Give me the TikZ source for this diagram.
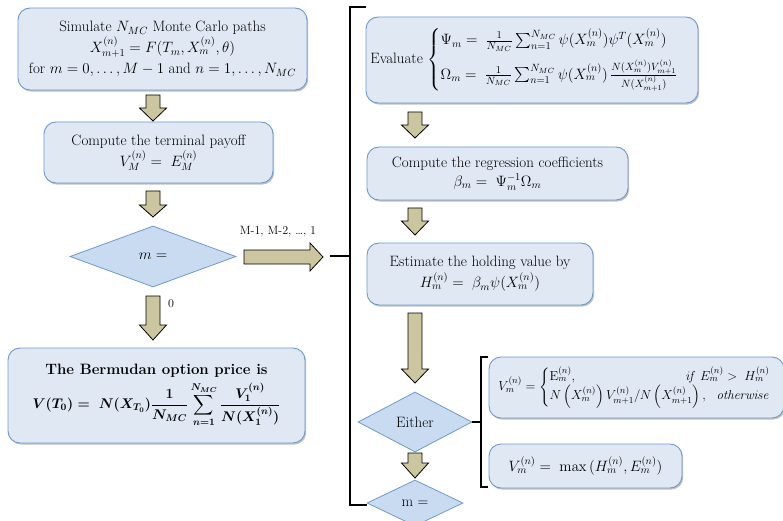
\documentclass[tikz,border=0pt]{standalone}
\usepackage{amsmath,amssymb}
\usepackage{fix-cm}
\usetikzlibrary{shapes.geometric,shadows}
\definecolor{boxfill}{HTML}{DFE8F3}
\definecolor{dmfill}{HTML}{C9DBF1}
\definecolor{boxline}{HTML}{6F99CC}
\definecolor{arrfill}{HTML}{CCC6A0}
\newcommand\blkdown[4]{%
  \draw[blkarrow] ({#1-7},#2) -- ({#1+7},#2) -- ({#1+7},#3) -- ({#1+13.5},#3) -- (#1,#4) -- ({#1-13.5},#3) -- ({#1-7},#3) -- cycle;}
\begin{document}
\begin{tikzpicture}[x=1pt,y=-1pt,
  box/.style={draw=boxline, fill=boxfill, rounded corners=12pt, line width=0.9pt,
    align=center, inner sep=0pt, font=\fontsize{15}{19}\selectfont,
    drop shadow={shadow xshift=1.2pt, shadow yshift=-1.6pt, opacity=0.35, fill=black!70}},
  dm/.style={diamond, draw=boxline, fill=dmfill, line width=0.8pt, inner sep=0pt,
    font=\fontsize{15}{19}\selectfont},
  blkarrow/.style={draw=black, fill=arrfill, line width=0.8pt, line join=miter},
  brk/.style={draw=black, line width=1.5pt},
  lbl/.style={font=\fontsize{12}{14}\selectfont, inner sep=0pt}]
\clip (0,0) rectangle (783,521);
\useasboundingbox (0,0) rectangle (783,521);
% left column
\node[box, minimum width=289pt, minimum height=82pt] (b1) at (162.5,49)
  {Simulate $N_{MC}$ Monte Carlo paths\\[2pt]
   $X_{m+1}^{(n)} = F(T_m, X_m^{(n)}, \theta)$\\[2pt]
   for $m=0,\ldots,M-1$ and $n=1,\ldots,N_{MC}$};
\node[box, minimum width=229pt, minimum height=61pt] (b2) at (158.5,152.5)
  {Compute the terminal payoff\\[2pt] $V_M^{(n)} = \; E_M^{(n)}$};
\node[dm, minimum width=166pt, minimum height=61pt] (d1) at (153,256.5) {$m =$};
\node[box, minimum width=297pt, minimum height=95pt] (b3) at (156.5,395.5)
  {\textbf{The Bermudan option price is}\\[4pt]
   {\fontsize{14}{17}\selectfont\boldmath$\displaystyle V(T_0) = \; N(X_{T_0})\frac{1}{N_{MC}}\sum_{n=1}^{N_{MC}}\frac{V_1^{(n)}}{N(X_1^{(n)})}$}};
\blkdown{153}{95}{108}{121}
\blkdown{153}{191}{205}{217}
\blkdown{153}{296}{325}{340}
\draw[blkarrow] (244,250) -- (310,250) -- (310,243) -- (323,257) -- (310,271) -- (310,264) -- (244,264) -- cycle;
\node[lbl] (l1) at (278,232) {M-1, M-2, \ldots, 1};
\node[lbl] (l0) at (171,304) {0};
% right column
\node[box, minimum width=332pt, minimum height=86pt] (ba) at (532,60)
  {Evaluate $\begin{cases}
   \Psi_m = \;\frac{1}{N_{MC}}\sum_{n=1}^{N_{MC}}\psi(X_m^{(n)})\psi^T(X_m^{(n)})\\[8pt]
   \Omega_m = \;\frac{1}{N_{MC}}\sum_{n=1}^{N_{MC}}\psi(X_m^{(n)})\,\frac{N(X_m^{(n)})V_{m+1}^{(n)}}{N(X_{m+1}^{(n)})}
   \end{cases}$};
\node[box, minimum width=261pt, minimum height=53pt] (bb) at (497.5,173.5)
  {Compute the regression coefficients\\ $\beta_m = \; \Psi_m^{-1}\Omega_m$};
\node[box, minimum width=226pt, minimum height=62pt] (bc) at (480,274)
  {Estimate the holding value by\\[2pt] $H_m^{(n)} = \; \beta_m\psi(X_m^{(n)})$};
\node[dm, minimum width=114pt, minimum height=60pt] (de) at (415,422) {Either};
\node[dm, minimum width=96pt, minimum height=46pt] (d2) at (415,503) {m =};
\node[box, minimum width=295pt, minimum height=61pt, font=\fontsize{13}{15}\selectfont] (bd) at (636.5,387.5)
  {$V_m^{(n)} = \left\{\begin{array}{@{}l@{}}
    \mathrm{E}_m^{(n)}, \hfill \mathit{if}\ E_m^{(n)} > \; H_m^{(n)}\\
    N\left(X_m^{(n)}\right)V_{m+1}^{(n)}/N\left(X_{m+1}^{(n)}\right),\ \ \mathit{otherwise}
   \end{array}\right.$\hspace*{4pt}};
\node[box, minimum width=193pt, minimum height=44pt] (be) at (585.5,466)
  {$V_m^{(n)} = \; \max\,(H_m^{(n)}, E_m^{(n)})$};
\blkdown{415}{112}{125}{138}
\blkdown{415}{208}{221}{235}
\blkdown{415}{313}{369}{383}
\blkdown{415}{453}{463}{478}
% brackets
\draw[brk] (366,7) -- (350,7) -- (350,505) -- (d2.west |- 0,505);
\draw[brk] (330,256) -- (350,256);
\draw[brk, line width=1.3pt] (488,357) -- (481,357) -- (481,487) -- (488,487);
\draw[brk, line width=1.3pt] (de.east) -- (481,422);
\end{tikzpicture}
\end{document}
